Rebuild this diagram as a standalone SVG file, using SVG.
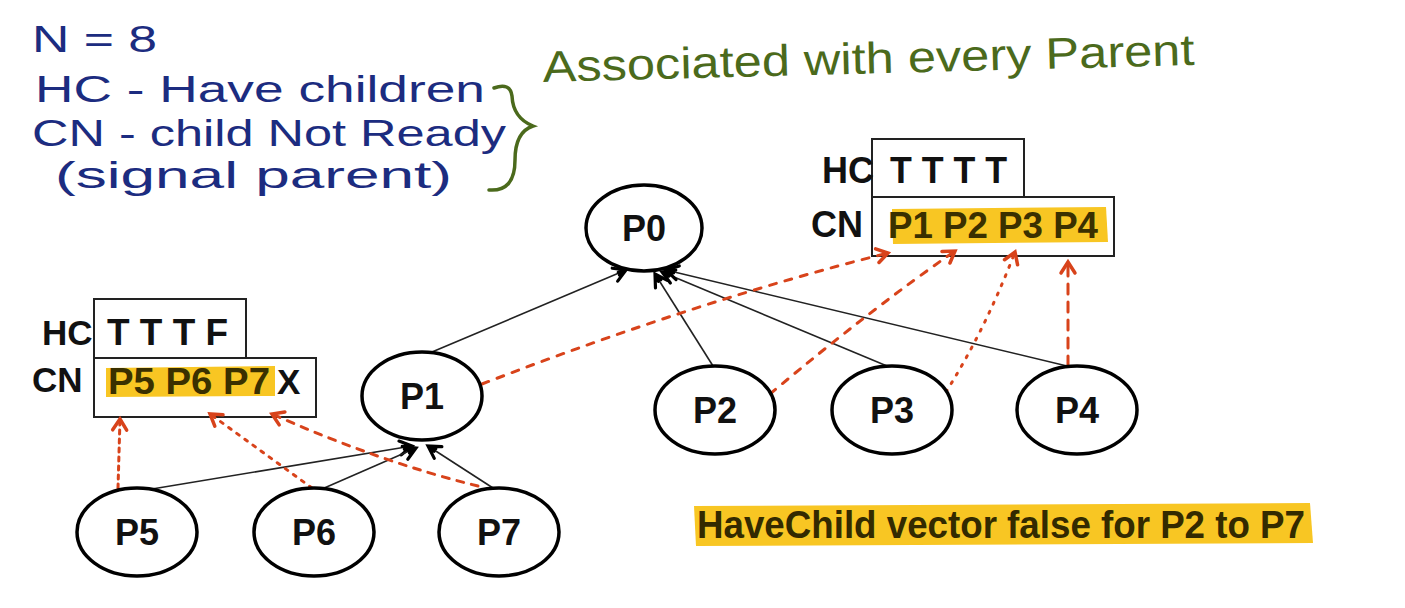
<svg xmlns="http://www.w3.org/2000/svg" width="1405" height="608" viewBox="0 0 1405 608">
<defs>
<style>
.node ellipse{fill:#fff;stroke:#000;stroke-width:3.5}
.node text{font-family:"Liberation Sans",Arial,sans-serif;font-weight:bold;font-size:36px;fill:#111;text-anchor:middle}
.edge{stroke:#222;stroke-width:1.6;fill:none}
.sig{stroke:#d8431b;stroke-width:3;fill:none;stroke-linecap:round}
.box{fill:#fff;stroke:#222;stroke-width:2}
.lbl{font-family:"Liberation Sans",Arial,sans-serif;font-weight:bold;fill:#111}
.hl{fill:#f8c623}
.hand{font-family:"Liberation Sans",Arial,sans-serif;fill:#1c2c80;font-size:37px}
.green{font-family:"Liberation Sans",Arial,sans-serif;fill:#4b6a1c;font-size:44px}
</style>
<marker id="ab" viewBox="-14 -10 18 20" refX="0" refY="0" markerWidth="18" markerHeight="20" markerUnits="userSpaceOnUse" orient="auto">
<path d="M -12 -7 L 0 0 L -12 7 M -8 -1 L 0 0 L -8 2" fill="none" stroke="#000" stroke-width="3.2" stroke-linecap="round"/>
</marker>
<marker id="ar" viewBox="-14 -10 18 20" refX="0" refY="0" markerWidth="18" markerHeight="20" markerUnits="userSpaceOnUse" orient="auto">
<path d="M -11 -7 L 0 0 L -11 7" fill="none" stroke="#d8431b" stroke-width="3.5" stroke-linecap="round"/>
</marker>
</defs>
<rect width="1405" height="608" fill="#fff"/>

<g id="notes">
<text class="hand" x="32" y="52" textLength="125" lengthAdjust="spacingAndGlyphs">N = 8</text>
<text class="hand" x="35" y="102" textLength="450" lengthAdjust="spacingAndGlyphs">HC - Have children</text>
<text class="hand" x="32" y="146" textLength="474" lengthAdjust="spacingAndGlyphs">CN - child Not Ready</text>
<text class="hand" x="55" y="188" textLength="397" lengthAdjust="spacingAndGlyphs">(signal parent)</text>
<path d="M 494 88 Q 510 82 512 96 Q 513 118 533 126 Q 515 132 515 160 Q 515 192 489 190" fill="none" stroke="#4b6a1c" stroke-width="3.5" stroke-linecap="round"/>
<text class="green" x="543" y="82" textLength="652" lengthAdjust="spacingAndGlyphs" transform="rotate(-1.5 543 82)">Associated with every Parent</text>
</g>

<g id="vec-right">
<rect class="box" x="872" y="139" width="152" height="58"/>
<rect class="box" x="872" y="197" width="242" height="59"/>
<text class="lbl" x="822" y="183" font-size="36">HC</text>
<text class="lbl" x="890" y="183" font-size="36" textLength="117" lengthAdjust="spacingAndGlyphs">T T T T</text>
<text class="lbl" x="811" y="237" font-size="36">CN</text>
<path class="hl" d="M 892 209 L 1106 207 L 1108 242 L 893 244 Z"/>
<text class="lbl" x="888" y="238" font-size="36" textLength="210" lengthAdjust="spacingAndGlyphs" style="fill:#3a3000">P1 P2 P3 P4</text>
</g>

<g id="vec-left">
<rect class="box" x="94" y="299" width="152" height="59"/>
<rect class="box" x="94" y="358" width="222" height="59"/>
<text class="lbl" x="42" y="345" font-size="35">HC</text>
<text class="lbl" x="107" y="345" font-size="36" textLength="121" lengthAdjust="spacingAndGlyphs">T T T F</text>
<text class="lbl" x="32" y="392" font-size="35">CN</text>
<path class="hl" d="M 106 368 L 275 366 L 275 396 L 106 397 Z"/>
<text class="lbl" x="108" y="394" font-size="37" textLength="162" lengthAdjust="spacingAndGlyphs" style="fill:#3a3000">P5 P6 P7</text>
<text class="lbl" x="277" y="394" font-size="35">X</text>
</g>

<g id="connectors">
<path class="edge" d="M 432 352 L 626 270" marker-end="url(#ab)"/>
<path class="edge" d="M 713 366 L 655 274" marker-end="url(#ab)"/>
<path class="edge" d="M 887 366 L 662 272" marker-end="url(#ab)"/>
<path class="edge" d="M 1067 366 L 666 270" marker-end="url(#ab)"/>
<path class="edge" d="M 152 489 L 412 446" marker-end="url(#ab)"/>
<path class="edge" d="M 322 489 L 416 448" marker-end="url(#ab)"/>
<path class="edge" d="M 493 488 L 428 446" marker-end="url(#ab)"/>

<path class="sig" d="M 482 384 Q 700 300 888 253" stroke-dasharray="7 9" marker-end="url(#ar)"/>
<path class="sig" d="M 770 394 Q 870 310 955 251" stroke-dasharray="7 9" marker-end="url(#ar)"/>
<path class="sig" d="M 946 392 Q 985 330 1015 252" stroke-dasharray="2 8" stroke-width="2.5" marker-end="url(#ar)"/>
<path class="sig" d="M 1068 366 L 1068 262" stroke-dasharray="10 8" stroke-width="4.5" marker-end="url(#ar)"/>
<path class="sig" d="M 118 488 L 120 419" stroke-dasharray="4 5" marker-end="url(#ar)"/>
<path class="sig" d="M 312 488 L 210 414" stroke-dasharray="3 7" marker-end="url(#ar)"/>
<path class="sig" d="M 478 486 Q 380 462 272 414" stroke-dasharray="7 8" marker-end="url(#ar)"/>
</g>

<g id="P0" class="node"><ellipse cx="644" cy="228" rx="58" ry="43"/><text x="644" y="241">P0</text></g>
<g id="P1" class="node"><ellipse cx="422" cy="396" rx="60" ry="44"/><text x="422" y="409">P1</text></g>
<g id="P2" class="node"><ellipse cx="715" cy="410" rx="60" ry="44"/><text x="715" y="423">P2</text></g>
<g id="P3" class="node"><ellipse cx="892" cy="410" rx="60" ry="44"/><text x="892" y="423">P3</text></g>
<g id="P4" class="node"><ellipse cx="1077" cy="410" rx="60" ry="44"/><text x="1077" y="423">P4</text></g>
<g id="P5" class="node"><ellipse cx="137" cy="532" rx="60" ry="44"/><text x="137" y="545">P5</text></g>
<g id="P6" class="node"><ellipse cx="314" cy="532" rx="60" ry="44"/><text x="314" y="545">P6</text></g>
<g id="P7" class="node"><ellipse cx="499" cy="532" rx="60" ry="44"/><text x="499" y="545">P7</text></g>

<g id="note-bottom">
<path class="hl" d="M 694 506 L 1310 503 L 1313 543 L 696 546 Z"/>
<text class="lbl" x="697" y="538" font-size="38" textLength="608" lengthAdjust="spacingAndGlyphs" style="fill:#332a00">HaveChild vector false for P2 to P7</text>
</g>
</svg>
